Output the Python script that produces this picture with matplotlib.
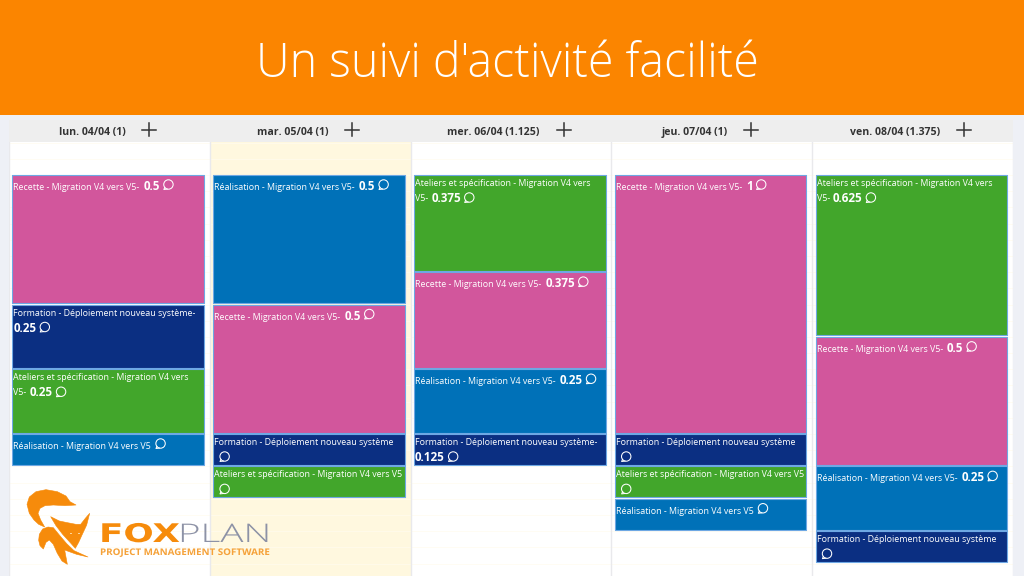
import matplotlib
matplotlib.use("Agg")
import matplotlib.pyplot as plt
import numpy as np
from matplotlib.patches import Circle, Polygon, Rectangle
from matplotlib.patheffects import AbstractPathEffect
from matplotlib.transforms import Affine2D

TITLE = "Un suivi d'activité facilité"
DAYS = ["lun. 04/04 (1)", "mar. 05/04 (1)", "mer. 06/04 (1.125)", "jeu. 07/04 (1)", "ven. 08/04 (1.375)"]

REC = "Recette - Migration V4 vers V5-"
REA = "Réalisation - Migration V4 vers V5-"
ATE = "Ateliers et spécification - Migration V4 vers"
FOR = "Formation - Déploiement nouveau système-"

# one list per day: activity, load, shown load, first line, second line
day1_kind = ["rec", "for", "ate", "rea"]
day1_load = [0.5, 0.25, 0.25, 0.125]
day1_shown = ["0.5", "0.25", "0.25", ""]
day1_line1 = [REC, FOR, ATE, "Réalisation - Migration V4 vers V5"]
day1_line2 = [None, "", "V5-", None]

day2_kind = ["rea", "rec", "for", "ate"]
day2_load = [0.5, 0.5, 0.125, 0.125]
day2_shown = ["0.5", "0.5", "", ""]
day2_line1 = [REA, REC, "Formation - Déploiement nouveau système", "Ateliers et spécification - Migration V4 vers V5"]
day2_line2 = [None, None, "", ""]

day3_kind = ["ate", "rec", "rea", "for"]
day3_load = [0.375, 0.375, 0.25, 0.125]
day3_shown = ["0.375", "0.375", "0.25", "0.125"]
day3_line1 = [ATE, REC, REA, FOR]
day3_line2 = ["V5-", None, None, ""]

day4_kind = ["rec", "for", "ate", "rea"]
day4_load = [1, 0.125, 0.125, 0.125]
day4_shown = ["1", "", "", ""]
day4_line1 = [REC, "Formation - Déploiement nouveau système", "Ateliers et spécification - Migration V4 vers V5", "Réalisation - Migration V4 vers V5"]
day4_line2 = [None, "", "", None]

day5_kind = ["ate", "rec", "rea", "for"]
day5_load = [0.625, 0.5, 0.25, 0.125]
day5_shown = ["0.625", "0.5", "0.25", ""]
day5_line1 = [ATE, REC, REA, "Formation - Déploiement nouveau système"]
day5_line2 = ["V5-", None, None, ""]

KINDS = [day1_kind, day2_kind, day3_kind, day4_kind, day5_kind]
LOADS = [day1_load, day2_load, day3_load, day4_load, day5_load]
SHOWN = [day1_shown, day2_shown, day3_shown, day4_shown, day5_shown]
LINE1 = [day1_line1, day2_line1, day3_line1, day4_line1, day5_line1]
LINE2 = [day1_line2, day2_line2, day3_line2, day4_line2, day5_line2]

COLORS = {"rec": "#D2569C", "for": "#0B2F82", "ate": "#42A62B", "rea": "#0071B8"}
ORANGE = "#FB8500"
FOX_ORANGE = "#F68B0B"
UI_FONT = ["Open Sans", "DejaVu Sans"]

W, H = 1024, 576
CAL_L, CAL_R, CAL_T = 9, 1013, 142
Y0, UNIT = 175, 259


class StretchX(AbstractPathEffect):
    # widens the glyphs of a text around its own anchor, for the wide logo lettering
    def __init__(self, sx):
        super().__init__()
        self.sx = sx

    def draw_path(self, renderer, gc, tpath, affine, rgbFace=None):
        tx, ty = affine.to_values()[4:6]
        stretch = Affine2D().translate(-tx, -ty).scale(self.sx, 1).translate(tx, ty)
        renderer.draw_path(gc, tpath, affine + stretch, rgbFace)


fig = plt.figure(figsize=(W / 100, H / 100), dpi=100, facecolor="#EEF0F6")

# calendar axes: x in days, y in load, 1 load unit is 259 px
cal = fig.add_axes([CAL_L / W, 0, (CAL_R - CAL_L) / W, 1 - CAL_T / H])
cal.set_facecolor("white")
for s in cal.spines.values():
    s.set_visible(False)
cal.tick_params(left=False, bottom=False, labelleft=False, labelbottom=False)
cal.axvspan(1, 2, color="#FFF8DF", lw=0, zorder=0)
cal.set_yticks(np.arange(-0.125, 1.6, 0.0625))
cal.set_xticks([])
cal.grid(axis="y", color="#FFFCEE", lw=0.5, zorder=0.5)
cal.set_axisbelow(True)
# limits after the ticks, set_yticks widens the view otherwise
cal.set_xlim(0, 5)
cal.set_ylim((H - Y0) / UNIT, (CAL_T - Y0) / UNIT)
for d in range(6):
    cal.axvline(d, color="#E9E9EC", lw=1, zorder=1)

GAP = 1.5 / UNIT
for d in range(5):
    cum = np.cumsum([0] + LOADS[d][:-1])
    cal.bar(d + 0.494, np.array(LOADS[d]) - GAP, width=0.955, bottom=cum,
            color=[COLORS[k] for k in KINDS[d]],
            edgecolor="#6EA8E4", linewidth=0.8, zorder=2, joinstyle="round")

# overlay in pixel coordinates for banner, headers, card text and logo
ov = fig.add_axes([0, 0, 1, 1], zorder=5)
ov.set_xlim(0, W)
ov.set_ylim(H, 0)
ov.axis("off")

ov.add_patch(Rectangle((0, 0), W, 115, color=ORANGE, lw=0))
ov.text(507, 65, TITLE, color="white", ha="center", va="center",
        fontsize=33.5, family="Open Sans", fontweight="light")

ov.add_patch(Rectangle((CAL_L, 120), CAL_R - CAL_L, 22, color="#EEEEEE", lw=0))
renderer = fig.canvas.get_renderer()


def draw_run(x, y, s, **kw):
    t = ov.text(x, y, s, color="white", va="center", ha="left", family=UI_FONT, **kw)
    return x + t.get_window_extent(renderer).width


def comment_icon(x, y):
    ov.add_patch(Circle((x, y), 4.7, fc="none", ec="white", lw=0.75))
    ov.plot([x - 3.6, x - 4.6, x - 1.2], [y + 2.8, y + 5.0, y + 4.6], color="white", lw=0.75)


for d, label in enumerate(DAYS):
    cx = CAL_L + (d + 0.5) * (CAL_R - CAL_L) / 5 - 17.5
    t = ov.text(cx, 132, label, ha="center", va="center", fontsize=7.6,
                fontweight="bold", color="#333333", family=UI_FONT)
    px = t.get_window_extent(renderer).x1 + 24
    ov.plot([px - 7, px + 7], [129.5, 129.5], color="#333333", lw=1.1)
    ov.plot([px, px], [123, 136], color="#333333", lw=1.1)

    cum = np.cumsum([0] + LOADS[d][:-1])
    left = cal.transData.transform((d + 0.0165, 0))[0] + 1
    for top, line1, line2, shown in zip(cum, LINE1[d], LINE2[d], SHOWN[d]):
        ytop = H - cal.transData.transform((0, top))[1]
        if line2 is None:
            x = draw_run(left, ytop + 12.5, line1, fontsize=6.4) + 4
            if shown:
                x = draw_run(x, ytop + 11.5, shown, fontsize=8.4, fontweight="bold") + 3
            comment_icon(x + 5.5, ytop + 9.5)
        else:
            draw_run(left, ytop + 8.5, line1, fontsize=6.4)
            y2 = ytop + 23.5
            if line2:
                x = draw_run(left, y2, line2, fontsize=6.4) + 3
            elif shown:
                x = left
            else:
                x = left + 5
            if shown:
                x = draw_run(x, y2, shown, fontsize=8.4, fontweight="bold") + 3
            comment_icon(x + 5.5, y2 - 1)

# logo (outline points in 3x crop coordinates)
tail = [(168, 60), (150, 50), (138, 33), (112, 20), (78, 14), (48, 20), (28, 36), (21, 58), (28, 85),
        (42, 105), (56, 118), (74, 126), (62, 105), (54, 85), (60, 70), (75, 62), (100, 60), (135, 62)]
head = [(92, 95), (118, 108), (142, 113), (168, 118), (182, 118), (196, 100), (209, 85), (200, 120),
        (186, 150), (176, 172), (166, 190), (150, 172), (128, 148), (108, 122)]
body = [(56, 166), (58, 148), (68, 132), (84, 126), (100, 128), (118, 150), (140, 176), (162, 197),
        (204, 216), (170, 208), (134, 195), (142, 238), (126, 228), (112, 205), (100, 178), (88, 165),
        (78, 172), (70, 192), (60, 182)]
for shape in (tail, head, body):
    pts = [(20 + x / 3, 485 + y / 3) for x, y in shape]
    ov.add_patch(Polygon(pts, closed=True, fc=FOX_ORANGE, ec=FOX_ORANGE, lw=0.4, joinstyle="round"))
for ex in (70.5, 78.5):
    ov.plot([ex - 0.8, ex + 0.8], [532.5, 532.5], color="#FFD9A0", lw=0.7)

ov.text(99, 542, "FOX", color=FOX_ORANGE, fontsize=18.5, fontweight="bold", family="DejaVu Sans",
        ha="left", va="baseline", path_effects=[StretchX(1.39)])
ov.text(178, 542, "PLAN", color="#8D92A6", fontsize=18.5, fontweight="light", family="Open Sans",
        ha="left", va="baseline", path_effects=[StretchX(1.5)])
ov.text(100, 555, "PROJECT MANAGEMENT SOFTWARE", color="#F5A23A", fontsize=6.6, fontweight="bold",
        family="Open Sans", ha="left", va="baseline", path_effects=[StretchX(1.07)])

fig.savefig("out.png", dpi=100, facecolor=fig.get_facecolor())
plt.close(fig)
